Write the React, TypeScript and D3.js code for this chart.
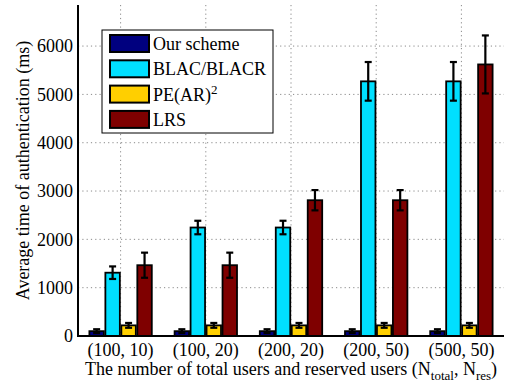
import React from 'react';
import * as d3 from 'd3';

const groups = ['(100, 10)', '(100, 20)', '(200, 20)', '(200, 50)', '(500, 50)'];
const seriesNames = ['Our scheme', 'BLAC/BLACR', 'PE(AR)2', 'LRS'];
const seriesColors = ['#00007f', '#00dfff', '#ffcf00', '#7f0000'];

const ourScheme = [100, 100, 100, 100, 100];
const ourSchemeErr = [40, 40, 40, 40, 40];
const blac = [1310, 2245, 2245, 5270, 5270];
const blacErr = [130, 140, 140, 400, 400];
const pear = [220, 220, 220, 220, 220];
const pearErr = [50, 50, 50, 50, 50];
const lrs = [1465, 1465, 2810, 2810, 5620];
const lrsErr = [260, 260, 210, 210, 600];

const yTicks = [0, 1000, 2000, 3000, 4000, 5000, 6000];

const values = [ourScheme, blac, pear, lrs];
const errors = [ourSchemeErr, blacErr, pearErr, lrsErr];

const W = 508;
const H = 388;
const left = 78;
const right = 504;
const top = 5;
const bottom = 336;
const FONT = "'Liberation Serif', 'Times New Roman', Times, serif";

const App = () => {
    const x0 = d3.scaleBand<string>()
        .domain(groups)
        .range([left, right])
        .paddingInner(0.25)
        .paddingOuter(0.125);

    const x1 = d3.scaleBand<number>()
        .domain(d3.range(seriesNames.length))
        .range([0, x0.bandwidth()])
        .padding(0);

    const y = d3.scaleLinear().domain([0, 6850]).range([bottom, top]);

    const legendX = 102;
    const legendY = 30;

    return (
        <div style={{ position: 'absolute', left: 0, top: 0 }}>
            <svg width={W} height={H} style={{ display: 'block', background: '#fff', fontFamily: FONT }}>
                {/* grid */}
                <g stroke="#8a8a8a" strokeWidth={1} strokeDasharray="1.2,3.1">
                    {yTicks.filter(t => t > 0).map(t => (
                        <line key={t} x1={left} x2={right} y1={y(t)} y2={y(t)} />
                    ))}
                    {groups.map(g => {
                        const cx = x0(g)! + x0.bandwidth() / 2;
                        return <line key={g} x1={cx} x2={cx} y1={top} y2={bottom} />;
                    })}
                </g>

                {/* bars */}
                {groups.map((g, gi) => (
                    <g key={g} transform={`translate(${x0(g)},0)`}>
                        {values.map((vals, si) => (
                            <rect key={si}
                                x={x1(si)! + 0.75}
                                y={y(vals[gi])}
                                width={x1.bandwidth() - 1.5}
                                height={y(0) - y(vals[gi])}
                                fill={seriesColors[si]}
                                stroke="#000"
                                strokeWidth={1.8} />
                        ))}
                        {values.map((vals, si) => {
                            const cx = x1(si)! + x1.bandwidth() / 2;
                            const hi = y(vals[gi] + errors[si][gi]);
                            const lo = y(vals[gi] - errors[si][gi]);
                            return (
                                <g key={`e${si}`} stroke="#000" strokeWidth={2.2}>
                                    <line x1={cx} x2={cx} y1={hi} y2={lo} />
                                    <line x1={cx - 3.5} x2={cx + 3.5} y1={hi} y2={hi} />
                                    <line x1={cx - 3.5} x2={cx + 3.5} y1={lo} y2={lo} />
                                </g>
                            );
                        })}
                    </g>
                ))}

                {/* axes */}
                <line x1={left} x2={left} y1={top} y2={bottom + 1} stroke="#000" strokeWidth={2} />
                <line x1={left - 1} x2={right} y1={bottom} y2={bottom} stroke="#000" strokeWidth={2} />

                <g fontSize={18} fill="#000">
                    {yTicks.map(t => (
                        <text key={t} x={left - 5} y={y(t)} dy="0.35em" textAnchor="end">{t}</text>
                    ))}
                    {groups.map(g => (
                        <text key={g} x={x0(g)! + x0.bandwidth() / 2} y={356} textAnchor="middle">{g}</text>
                    ))}
                    <text x={(left + right) / 2} y={375} textAnchor="middle">
                        The number of total users and reserved users (N
                        <tspan fontSize={13} dy={5}>total</tspan>
                        <tspan dy={-5}>, N</tspan>
                        <tspan fontSize={13} dy={5}>res</tspan>
                        <tspan dy={-5}>)</tspan>
                    </text>
                    <text transform={`translate(29,${(top + bottom) / 2}) rotate(-90)`} textAnchor="middle">
                        Average time of authentication (ms)
                    </text>
                </g>

                {/* legend */}
                <g>
                    <rect x={legendX} y={legendY} width={171} height={103} fill="#fff" stroke="#000" strokeWidth={1} />
                    {seriesNames.map((name, i) => {
                        const ry = legendY + 5 + i * 25.3;
                        return (
                            <g key={name}>
                                <rect x={legendX + 8} y={ry} width={39} height={17} fill={seriesColors[i]} stroke="#000" strokeWidth={2} />
                                <text x={legendX + 51} y={ry + 15} fontSize={18}>
                                    {name === 'PE(AR)2' ? (
                                        <>PE(AR)<tspan fontSize={13} dy={-7}>2</tspan></>
                                    ) : name}
                                </text>
                            </g>
                        );
                    })}
                </g>
            </svg>
        </div>
    );
};

export default App;
